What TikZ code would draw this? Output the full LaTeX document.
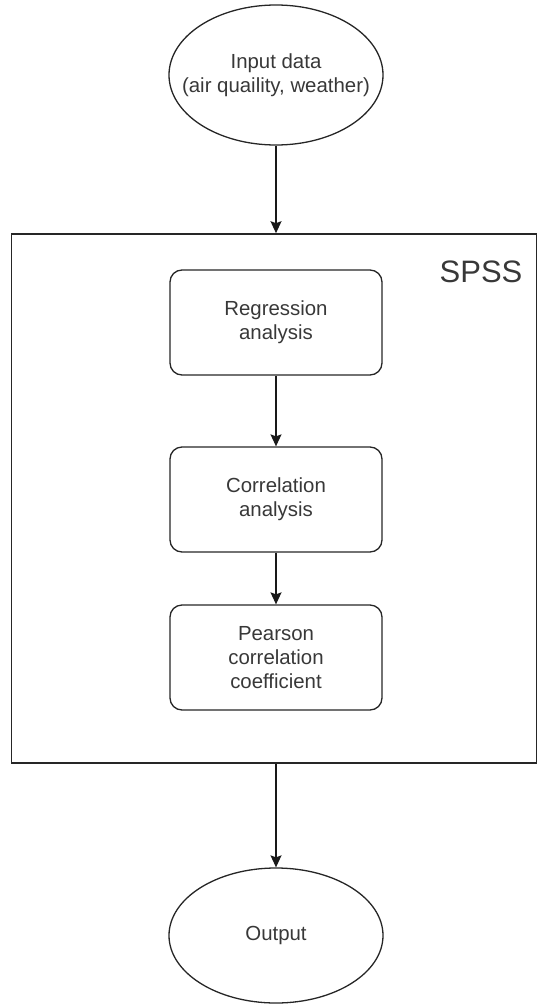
\documentclass[tikz,border=0pt]{standalone}
\usepackage{fontspec}
\setmainfont{Liberation Sans}
\usetikzlibrary{shapes.geometric,arrows.meta}
\definecolor{txt}{gray}{0.22}
\tikzset{
  words/.style={text=txt, align=center, inner sep=0pt, font=\fontsize{20.4}{24}\selectfont},
  base/.style={draw=black!85, line width=1.3pt, words},
  oval/.style={draw=black!85, line width=1.3pt, ellipse, inner sep=0pt, minimum width=214pt},
  procbox/.style={base, rounded corners=12pt, minimum width=212pt, minimum height=105pt},
  frame/.style={draw=black!85, line width=1.6pt, inner sep=0pt},
  conn/.style={draw=black!90, line width=1.3pt, -{Stealth[length=12pt,width=11pt,inset=2pt]}}
}
\begin{document}
\begin{tikzpicture}[x=1pt,y=-1pt]
\useasboundingbox (0,0) rectangle (538,1006);
\node[frame, minimum width=525pt, minimum height=529pt] (spss) at (274,498.5) {};
\node[text=txt, font=\fontsize{31}{36}\selectfont] (lbl) at (481,272) {SPSS};
\node[oval, minimum height=140pt, label={[words]center:{Input data\\(air quaility, weather)}}] (in) at (276,75) {};
\node[procbox] (reg) at (276,322.5) {Regression\\analysis};
\node[procbox] (cor) at (276,499.5) {Correlation\\analysis};
\node[procbox] (pea) at (276,657.5) {Pearson\\correlation\\coefficient};
\node[oval, minimum height=135pt, label={[words]center:Output}] (out) at (276,935.5) {};
\draw[conn] (in.south) -- (in.south |- spss.north);
\draw[conn] (reg.south) -- (cor.north);
\draw[conn] (cor.south) -- (pea.north);
\draw[conn] (out.north |- spss.south) -- (out.north);
\end{tikzpicture}
\end{document}
